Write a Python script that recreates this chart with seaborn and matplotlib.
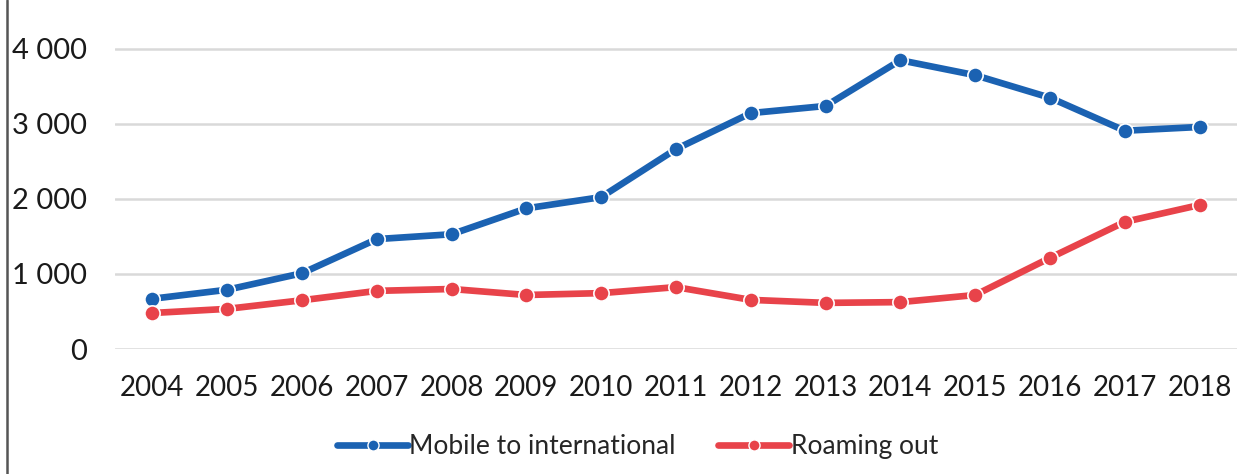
import matplotlib
matplotlib.use("Agg")
import matplotlib.pyplot as plt
import matplotlib.lines as mlines
from matplotlib.ticker import FuncFormatter
import seaborn as sns
import pandas as pd

years = list(range(2004, 2019))
mobile_intl = [670, 790, 1010, 1465, 1530, 1875, 2025, 2665, 3145, 3240, 3850, 3650, 3350, 2910, 2960]
roaming_out = [480, 535, 650, 775, 800, 720, 745, 825, 655, 615, 625, 720, 1215, 1695, 1920]
series_names = ["Mobile to international", "Roaming out"]
colors = ["#1b62b2", "#e8434a"]

df = pd.concat([
    pd.DataFrame({"year": years, "value": mobile_intl, "series": series_names[0]}),
    pd.DataFrame({"year": years, "value": roaming_out, "series": series_names[1]}),
])

sns.set_theme(style="white")
plt.rcParams["font.family"] = ["Lato", "DejaVu Sans"]

fig = plt.figure(figsize=(12.5, 4.74), dpi=100)
ax = fig.add_axes([0.092, 0.2637, 0.8976, 0.6963])

sns.lineplot(data=df, x="year", y="value", hue="series", palette=colors,
             marker="o", markersize=11, markeredgecolor="white", markeredgewidth=1.2,
             linewidth=4.8, ax=ax, legend=False, clip_on=False)

ax.set_xlim(2003.5, 2018.5)
ax.set_ylim(0, 4400)
ax.set_xticks(years)
ax.set_xticklabels([str(y) for y in years])
ax.set_yticks([0, 1000, 2000, 3000, 4000])
ax.yaxis.set_major_formatter(FuncFormatter(lambda v, p: f"{int(v):,}".replace(",", " ")))
ax.grid(axis="y", color="#d9d9d9", linewidth=1.8)
ax.set_axisbelow(True)
for s in ax.spines.values():
    s.set_visible(False)
ax.tick_params(axis="x", labelsize=20, pad=19, length=0, colors="#1a1a1a")
ax.tick_params(axis="y", labelsize=21, pad=20, length=0, colors="#1a1a1a")
ax.set_xlabel("")
ax.set_ylabel("")

handles = [mlines.Line2D([], [], color=c, linewidth=4.8, marker="o", markersize=8,
                         markeredgecolor="white", markeredgewidth=1.0) for c in colors]
fig.legend(handles, series_names, loc="center", bbox_to_anchor=(0.51, 0.057), ncol=2,
           frameon=False, fontsize=19, handlelength=2.7, handletextpad=0.05,
           columnspacing=1.6)

fig.add_artist(mlines.Line2D([0.0055, 0.0055], [0, 1], transform=fig.transFigure,
                             color="#555555", linewidth=1.8))

fig.savefig("out.png", dpi=100, facecolor="white")
